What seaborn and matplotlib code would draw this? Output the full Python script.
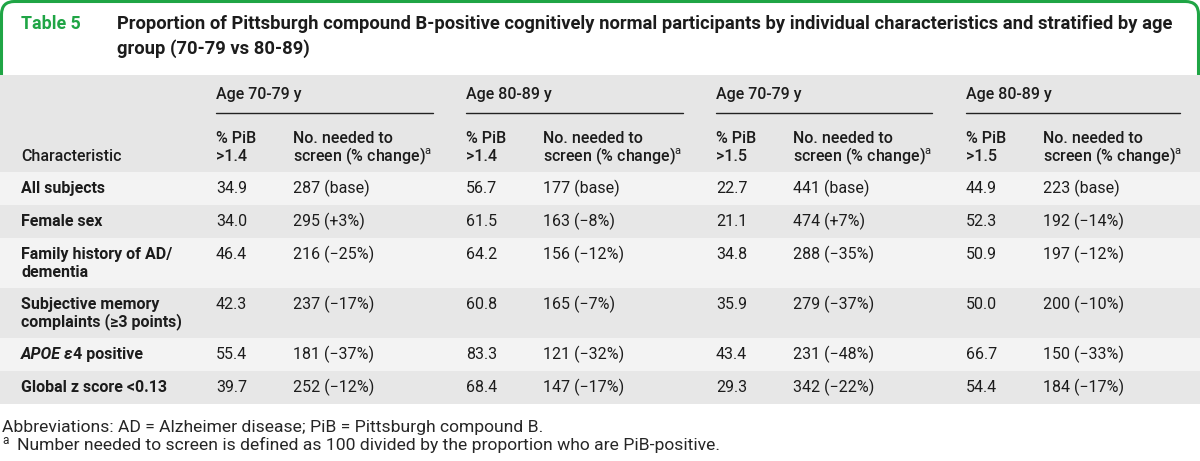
import matplotlib
matplotlib.use("Agg")
import matplotlib.pyplot as plt
from matplotlib.patches import FancyBboxPatch, Rectangle
import seaborn as sns

# datos de la tabla
characteristics = ["All subjects", "Female sex", "Family history of AD/\ndementia",
                   "Subjective memory\ncomplaints (≥3 points)", "APOE ε4 positive",
                   "Global z score <0.13"]
age_groups = ["Age 70-79 y", "Age 80-89 y", "Age 70-79 y", "Age 80-89 y"]
thresholds = [">1.4", ">1.4", ">1.5", ">1.5"]

pib_70_14 = [34.9, 34.0, 46.4, 42.3, 55.4, 39.7]
nns_70_14 = [287, 295, 216, 237, 181, 252]
chg_70_14 = [None, 3, -25, -17, -37, -12]

pib_80_14 = [56.7, 61.5, 64.2, 60.8, 83.3, 68.4]
nns_80_14 = [177, 163, 156, 165, 121, 147]
chg_80_14 = [None, -8, -12, -7, -32, -17]

pib_70_15 = [22.7, 21.1, 34.8, 35.9, 43.4, 29.3]
nns_70_15 = [441, 474, 288, 279, 231, 342]
chg_70_15 = [None, 7, -35, -37, -48, -22]

pib_80_15 = [44.9, 52.3, 50.9, 50.0, 66.7, 54.4]
nns_80_15 = [223, 192, 197, 200, 150, 184]
chg_80_15 = [None, -14, -12, -10, -33, -17]

title_lines = ["Proportion of Pittsburgh compound B-positive cognitively normal participants by individual characteristics and stratified by age",
               "group (70-79 vs 80-89)"]
foot1 = "Abbreviations: AD = Alzheimer disease; PiB = Pittsburgh compound B."
foot2 = "Number needed to screen is defined as 100 divided by the proportion who are PiB-positive."

sns.set_theme(style="white")
plt.rcParams['font.family'] = ['Roboto', 'DejaVu Sans']
plt.rcParams['mathtext.fontset'] = 'custom'
plt.rcParams['mathtext.rm'] = 'Roboto'

GREEN = "#1fa545"
TXT = "#1c1c1c"
HEAD_BG = "#e6e6e6"
LIGHT = "#f3f3f3"
DARK = "#e7e7e7"
FS = 11.5
LS = 18  # salto de linea en px


def fmt_nns(n, c):
    if c is None:
        return f"{n} (base)"
    if c > 0:
        return f"{n} (+{c}%)"
    return f"{n} (\u2212{abs(c)}%)"


fig = plt.figure(figsize=(12, 4.61), dpi=100)
ax = fig.add_axes([0, 0, 1, 1])
ax.set_xlim(0, 1200)
ax.set_ylim(461, 0)
ax.axis("off")

# caja del titulo
box = FancyBboxPatch((1.5, 1.5), 1197, 110, boxstyle="round,pad=0,rounding_size=13",
                     fc="white", ec=GREEN, lw=2.2, zorder=1)
ax.add_patch(box)
ax.text(21, 24, "Table 5", color=GREEN, fontsize=12.8, fontweight="bold", va="center")
for k, line in enumerate(title_lines):
    ax.text(117, 24 + 25 * k, line, color=TXT, fontsize=13.2, fontweight="bold", va="center")

# fondo de la tabla
ax.add_patch(Rectangle((0, 75), 1200, 97, fc=HEAD_BG, ec="none", zorder=2))
row_edges = [172, 205, 238, 288, 338, 371, 404]
for i in range(len(characteristics)):
    col = LIGHT if i % 2 == 0 else DARK
    ax.add_patch(Rectangle((0, row_edges[i]), 1200, row_edges[i + 1] - row_edges[i],
                           fc=col, ec="none", zorder=2))

# encabezados
group_x = [216, 466, 716, 966]
group_end = [433, 683, 932, 1180]
for gx, ge, g, t in zip(group_x, group_end, age_groups, thresholds):
    ax.text(gx, 94, g, fontsize=FS, fontweight="medium", color=TXT, va="center", zorder=3)
    ax.plot([gx, ge], [113, 113], color="#222222", lw=1.0, zorder=3)
    ax.text(gx, 138, "% PiB", fontsize=FS, fontweight="medium", color=TXT, va="center", zorder=3)
    ax.text(gx, 156, t, fontsize=FS, fontweight="medium", color=TXT, va="center", zorder=3)
    ax.text(gx + 77, 138, "No. needed to", fontsize=FS, fontweight="medium", color=TXT,
            va="center", zorder=3)
    ax.text(gx + 77, 156, "screen (% change)$^{\\mathrm{a}}$", fontsize=FS,
            fontweight="medium", color=TXT, va="center", zorder=3)
ax.text(21, 156, "Characteristic", fontsize=FS, fontweight="medium", color=TXT,
        va="center", zorder=3)

# filas
cols = [(pib_70_14, nns_70_14, chg_70_14), (pib_80_14, nns_80_14, chg_80_14),
        (pib_70_15, nns_70_15, chg_70_15), (pib_80_15, nns_80_15, chg_80_15)]
for i, name in enumerate(characteristics):
    y0 = row_edges[i] + 16
    if name.startswith("APOE"):
        t1 = ax.text(21, y0, "APOE ε", fontsize=FS, fontweight="bold", style="italic",
                     color=TXT, va="center", zorder=3)
        fig.canvas.draw()
        bb = t1.get_window_extent().transformed(ax.transData.inverted())
        ax.text(bb.x1 - 1, y0, "4 positive", fontsize=FS, fontweight="bold", color=TXT,
                va="center", zorder=3)
    else:
        for k, part in enumerate(name.split("\n")):
            ax.text(21, y0 + LS * k, part, fontsize=FS, fontweight="bold", color=TXT,
                    va="center", zorder=3)
    for gx, (p, n, c) in zip(group_x, cols):
        ax.text(gx, y0, f"{p[i]:.1f}", fontsize=FS, color=TXT, va="center", zorder=3)
        ax.text(gx + 77, y0, fmt_nns(n[i], c[i]), fontsize=FS, color=TXT, va="center", zorder=3)

# notas al pie
ax.text(2, 427, foot1, fontsize=12.6, color="#262626", va="center")
ax.text(2, 440, "a", fontsize=8.5, color="#262626", va="center")
ax.text(17, 445, foot2, fontsize=12.6, color="#262626", va="center")

fig.savefig("out.png", dpi=100)
